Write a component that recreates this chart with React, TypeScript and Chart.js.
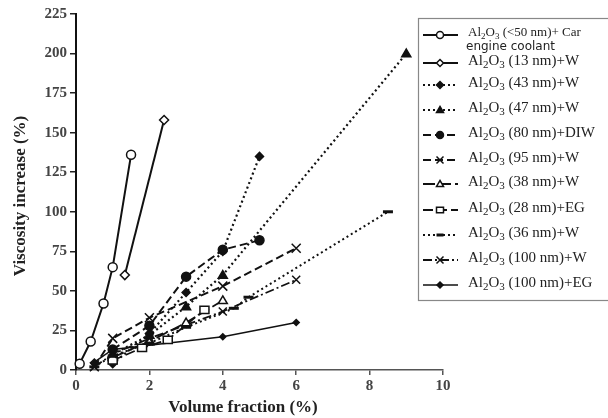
import React, { useEffect, useRef } from "react";
import { Chart, registerables } from "chart.js";

Chart.register(...registerables);

// ---- data ----
const xTicks = [0, 2, 4, 6, 8, 10];
const yTicks = [0, 25, 50, 75, 100, 125, 150, 175, 200, 225];

const coolantX = [0.1, 0.4, 0.75, 1.0, 1.5];
const coolantY = [4, 18, 42, 65, 136];
const al13X = [1.33, 2.4];
const al13Y = [60, 158];
const al43X = [1, 2, 3, 4, 5];
const al43Y = [4, 23, 49, 75, 135];
const al47X = [1, 2, 3, 4, 9];
const al47Y = [10, 22, 40, 60, 200];
const al80X = [1, 2, 3, 4, 5];
const al80Y = [13, 28, 59, 76, 82];
const al95X = [0.5, 1, 2, 4, 6];
const al95Y = [2, 20, 33, 53, 77];
const al38X = [1, 2, 3, 4];
const al38Y = [8, 18, 30, 44];
const al28X = [1, 1.8, 2.5, 3.5];
const al28Y = [6, 14, 19, 38];
const al36X = [0.5, 1, 2, 3, 4.3, 4.7, 8.5];
const al36Y = [2, 9, 17, 27, 39, 46, 100];
const al100wX = [0.5, 1, 2, 4, 6];
const al100wY = [2, 10, 20, 37, 57];
const al100egX = [0.5, 1, 4, 6];
const al100egY = [5, 13, 21, 30];

const seriesLabels = [
  "Al2O3 (<50 nm)+ Car",
  "Al2O3 (13 nm)+W",
  "Al2O3 (43 nm)+W",
  "Al2O3 (47 nm)+W",
  "Al2O3 (80 nm)+DIW",
  "Al2O3 (95 nm)+W",
  "Al2O3 (38 nm)+W",
  "Al2O3 (28 nm)+EG",
  "Al2O3 (36 nm)+W",
  "Al2O3 (100 nm)+W",
  "Al2O3 (100 nm)+EG",
];
const firstLabelExtra = "engine coolant";
const xTitle = "Volume fraction (%)";
const yTitle = "Viscosity increase (%)";

// ---- styles ----
type Sty = { style: string; filled: boolean; dash: number[]; r: number; lw: number };
const styles: Sty[] = [
  { style: "circle", filled: false, dash: [], r: 4.5, lw: 2 },
  { style: "rectRot", filled: false, dash: [], r: 4.5, lw: 2 },
  { style: "rectRot", filled: true, dash: [2, 3], r: 4, lw: 2.2 },
  { style: "triangle", filled: true, dash: [2, 3], r: 4.5, lw: 2.2 },
  { style: "circle", filled: true, dash: [8, 4], r: 4.5, lw: 2 },
  { style: "crossRot", filled: false, dash: [8, 4], r: 4.5, lw: 2 },
  { style: "triangle", filled: false, dash: [12, 4], r: 4.5, lw: 1.8 },
  { style: "rect", filled: false, dash: [10, 4], r: 4.5, lw: 1.8 },
  { style: "line", filled: true, dash: [2, 3], r: 5, lw: 2 },
  { style: "crossRot", filled: false, dash: [9, 3, 2, 3], r: 4, lw: 1.8 },
  { style: "rectRot", filled: true, dash: [], r: 3, lw: 1.5 },
];

const xsAll = [coolantX, al13X, al43X, al47X, al80X, al95X, al38X, al28X, al36X, al100wX, al100egX];
const ysAll = [coolantY, al13Y, al43Y, al47Y, al80Y, al95Y, al38Y, al28Y, al36Y, al100wY, al100egY];

const INK = "#111";

function drawMarker(ctx: CanvasRenderingContext2D, s: Sty, x: number, y: number) {
  const r = s.r;
  ctx.save();
  ctx.setLineDash([]);
  ctx.strokeStyle = INK;
  ctx.fillStyle = s.filled ? INK : "#fff";
  ctx.lineWidth = 1.5;
  ctx.beginPath();
  switch (s.style) {
    case "circle":
      ctx.arc(x, y, r, 0, Math.PI * 2);
      ctx.fill();
      ctx.stroke();
      break;
    case "rectRot":
      ctx.moveTo(x, y - r);
      ctx.lineTo(x + r, y);
      ctx.lineTo(x, y + r);
      ctx.lineTo(x - r, y);
      ctx.closePath();
      ctx.fill();
      ctx.stroke();
      break;
    case "triangle":
      ctx.moveTo(x, y - r);
      ctx.lineTo(x + r, y + r * 0.7);
      ctx.lineTo(x - r, y + r * 0.7);
      ctx.closePath();
      ctx.fill();
      ctx.stroke();
      break;
    case "rect":
      ctx.rect(x - r, y - r * 0.8, r * 2, r * 1.6);
      ctx.fill();
      ctx.stroke();
      break;
    case "crossRot":
      ctx.moveTo(x - r, y - r);
      ctx.lineTo(x + r, y + r);
      ctx.moveTo(x + r, y - r);
      ctx.lineTo(x - r, y + r);
      ctx.stroke();
      break;
    case "line":
      ctx.lineWidth = 3;
      ctx.moveTo(x - r, y);
      ctx.lineTo(x + r, y);
      ctx.stroke();
      break;
  }
  ctx.restore();
}

function drawAlLabel(ctx: CanvasRenderingContext2D, label: string, x: number, y: number, size: number) {
  const rest = label.replace(/^Al2O3/, "");
  const main = `${size}px "Liberation Serif", serif`;
  const sub = `${Math.round(size * 0.72)}px "Liberation Serif", serif`;
  let cx = x;
  const parts: [string, boolean][] = [["Al", false], ["2", true], ["O", false], ["3", true], [rest, false]];
  for (const [t, isSub] of parts) {
    ctx.font = isSub ? sub : main;
    ctx.fillText(t, cx, isSub ? y + size * 0.3 : y);
    cx += ctx.measureText(t).width;
  }
}

const decorPlugin = {
  id: "decor",
  afterDraw(chart: any) {
    const ctx: CanvasRenderingContext2D = chart.ctx;
    ctx.save();
    // axis titles
    ctx.fillStyle = "#222";
    ctx.font = 'bold 17px "Liberation Serif", serif';
    ctx.textAlign = "center";
    ctx.textBaseline = "alphabetic";
    ctx.fillText(xTitle, 243, 412);
    ctx.save();
    ctx.translate(25, 196);
    ctx.rotate(-Math.PI / 2);
    ctx.fillText(yTitle, 0, 0);
    ctx.restore();

    // legend box
    const bx = 418, by = 18, bw = 200, bh = 282;
    ctx.fillStyle = "#fff";
    ctx.fillRect(bx, by, bw, bh);
    ctx.strokeStyle = "#888";
    ctx.lineWidth = 1.2;
    ctx.strokeRect(bx + 0.5, by + 0.5, bw, bh);

    const rowsY = [35, 63, 85, 110, 135, 160, 184, 210, 235, 260, 285];
    ctx.textAlign = "left";
    ctx.textBaseline = "middle";
    seriesLabels.forEach((lab, i) => {
      const s = styles[i];
      const y = rowsY[i];
      ctx.save();
      ctx.strokeStyle = INK;
      ctx.lineWidth = Math.min(s.lw, 1.8);
      ctx.setLineDash(s.dash);
      ctx.beginPath();
      ctx.moveTo(423, y);
      ctx.lineTo(458, y);
      ctx.stroke();
      ctx.restore();
      drawMarker(ctx, { ...s, r: Math.min(s.r, 3.5) }, 440, y);
      ctx.fillStyle = "#222";
      if (i === 0) {
        drawAlLabel(ctx, lab, 468, y - 2, 13);
        ctx.font = '12px "DejaVu Sans", sans-serif';
        ctx.fillText(firstLabelExtra, 466, y + 12);
      } else {
        drawAlLabel(ctx, lab, 468, y - 2, 15);
      }
    });
    ctx.restore();
  },
};

const markerPlugin = {
  id: "markers",
  afterDatasetsDraw(chart: any) {
    const ctx: CanvasRenderingContext2D = chart.ctx;
    chart.data.datasets.forEach((ds: any, i: number) => {
      const meta = chart.getDatasetMeta(i);
      meta.data.forEach((pt: any) => drawMarker(ctx, styles[i], pt.x, pt.y));
    });
  },
};

export default function App() {
  const ref = useRef<HTMLCanvasElement>(null);
  useEffect(() => {
    if (!ref.current) return;
    const tickFont = { family: '"Liberation Serif", serif', size: 15, weight: "bold" as const };
    const chart = new Chart(ref.current, {
      type: "scatter",
      data: {
        datasets: seriesLabels.map((lab, i) => ({
          label: lab,
          data: xsAll[i].map((x, j) => ({ x, y: ysAll[i][j] })),
          showLine: true,
          borderColor: INK,
          borderWidth: styles[i].lw,
          borderDash: styles[i].dash,
          pointRadius: 0,
          pointHoverRadius: 0,
          tension: 0,
        })),
      },
      options: {
        responsive: false,
        animation: false,
        events: [],
        layout: { padding: { top: 14, right: 165, left: 0, bottom: 0 } },
        plugins: { legend: { display: false }, tooltip: { enabled: false } },
        scales: {
          x: {
            type: "linear",
            min: 0,
            max: 10,
            afterBuildTicks: (s: any) => {
              s.ticks = xTicks.map((v) => ({ value: v }));
            },
            afterFit: (s: any) => {
              s.height = 48;
            },
            ticks: { font: tickFont, color: "#444", padding: 2 },
            grid: { drawOnChartArea: false, drawTicks: true, tickLength: 5, color: "#555", lineWidth: 1.5 },
            border: { color: "#555", width: 1.5 },
          },
          y: {
            type: "linear",
            min: 0,
            max: 225,
            afterBuildTicks: (s: any) => {
              s.ticks = yTicks.map((v) => ({ value: v }));
            },
            afterFit: (s: any) => {
              s.width = 76;
            },
            ticks: { font: tickFont, color: "#444", padding: 3 },
            grid: { drawOnChartArea: false, drawTicks: true, tickLength: 6, color: "#222", lineWidth: 1.5 },
            border: { color: "#111", width: 2 },
          },
        },
      },
      plugins: [markerPlugin, decorPlugin],
    });
    return () => chart.destroy();
  }, []);
  return (
    <div style={{ position: "fixed", left: 0, top: 0, width: 608, height: 418, background: "#fff" }}>
      <canvas ref={ref} width={608} height={418} />
    </div>
  );
}
